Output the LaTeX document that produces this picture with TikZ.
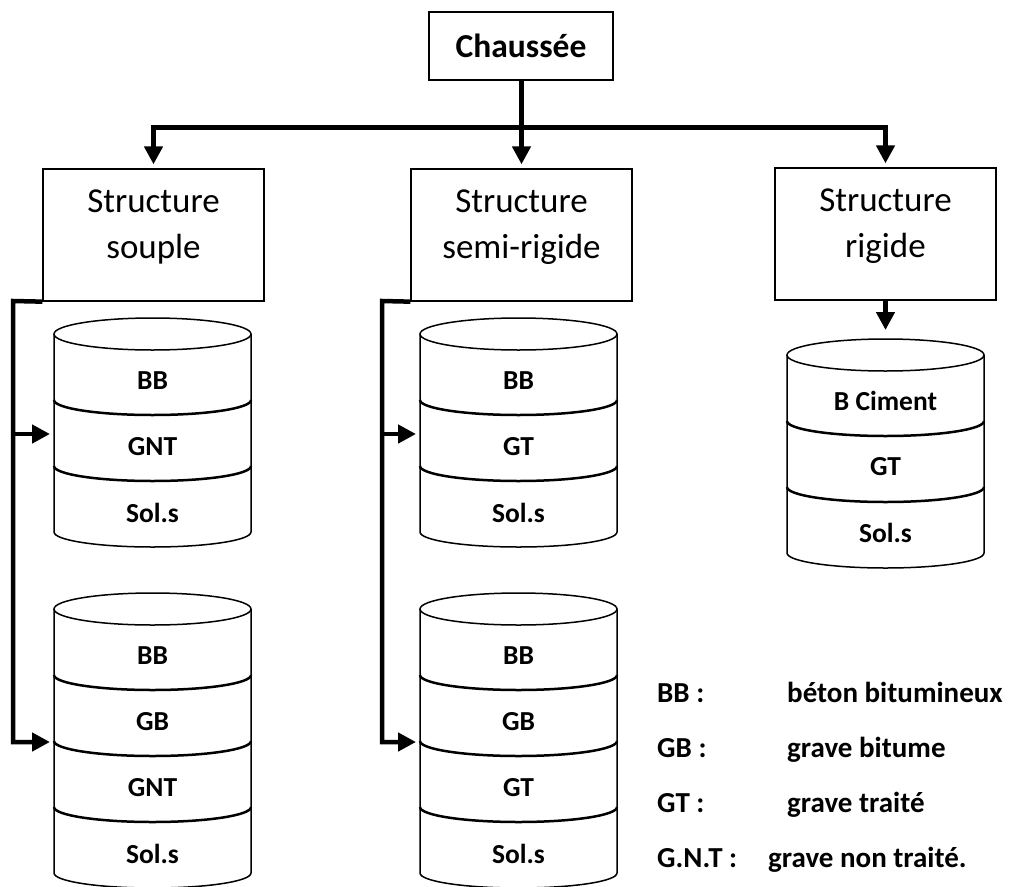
\documentclass[tikz,border=0pt]{standalone}
\usepackage{fontspec}
\setmainfont{Carlito}
\usetikzlibrary{arrows.meta}
\newcommand\drawlayers[3]{% #1 left x, #2 top centre y, #3 number of layers
  \pgfmathsetmacro\cylbot{#2+66*#3}
  \draw[cylline] (#1+98.5,#2) ellipse[x radius=98.5pt,y radius=16pt];
  \draw[cylline] (#1,#2) -- (#1,\cylbot) arc[start angle=180,end angle=360,x radius=98.5pt,y radius=15pt] -- (#1+197,#2);
  \pgfmathtruncatemacro\cyln{#3-1}
  \foreach \k in {1,...,\cyln}{
    \draw[divider] (#1,#2+66*\k) arc[start angle=180,end angle=360,x radius=98.5pt,y radius=15pt];
  }
}
\begin{document}
\begin{tikzpicture}[x=1pt,y=-1pt,
  topbox/.style={draw,line width=1.3pt,minimum width=184pt,minimum height=68pt,inner sep=0pt,
    font=\fontsize{33.5}{40}\selectfont\bfseries},
  sbox/.style={draw,line width=1.3pt,minimum width=221pt,minimum height=132pt,inner sep=0pt,
    align=center,font=\fontsize{35}{46}\selectfont,text depth=22pt},
  conn/.style={line width=5.5pt,-{Triangle[length=18pt,width=18pt]},shorten >=4pt},
  link/.style={line width=4.5pt,-{Triangle[length=18pt,width=18pt]},shorten >=4pt},
  cylline/.style={line width=1.5pt},
  divider/.style={line width=2.5pt},
  lab/.style={font=\fontsize{27.5}{32}\selectfont\bfseries,inner sep=0pt},
  leg/.style={font=\fontsize{29}{34}\selectfont\bfseries,inner sep=0pt,anchor=base west}]
\useasboundingbox[fill=white] (0,0) rectangle (1011,886);

% boxes
\node[topbox] (ch) at (521,46) {Chaussée};
\node[sbox] (s1) at (153.5,235) {Structure\\souple};
\node[sbox] (s2) at (521.5,235) {Structure\\semi-rigide};
\node[sbox] (s3) at (885.5,234) {Structure\\rigide};

% top connectors
\coordinate (bar) at (0,127.5);
\draw[conn] (s2.north |- ch.south) -- (s2.north |- bar) -| (s1.north);
\draw[conn] (s2.north |- ch.south) -- (s2.north |- bar) -| (s3.north);
\draw[conn] (s2.north |- ch.south) -- (s2.north);

% cylinders
\drawlayers{54}{334}{3}
\drawlayers{420}{334}{3}
\drawlayers{54}{609}{4}
\drawlayers{420}{609}{4}
\drawlayers{787}{355}{3}

% cylinder labels
\node[lab] (a1) at (152.5,381) {BB};
\node[lab] (a2) at (152.5,447) {GNT};
\node[lab] (a3) at (152.5,513) {Sol.s};
\node[lab] (b1) at (518.5,381) {BB};
\node[lab] (b2) at (518.5,447) {GT};
\node[lab] (b3) at (518.5,513) {Sol.s};
\node[lab] (c1) at (152.5,656) {BB};
\node[lab] (c2) at (152.5,722) {GB};
\node[lab] (c3) at (152.5,788) {GNT};
\node[lab] (c4) at (152.5,854) {Sol.s};
\node[lab] (d1) at (518.5,656) {BB};
\node[lab] (d2) at (518.5,722) {GB};
\node[lab] (d3) at (518.5,788) {GT};
\node[lab] (d4) at (518.5,854) {Sol.s};
\node[lab] (e1) at (885.5,401) {B Ciment};
\node[lab] (e2) at (885.5,467) {GT};
\node[lab] (e3) at (885.5,533) {Sol.s};

% side connectors
\coordinate (k1) at (13,301);
\coordinate (t1) at (54,434);
\coordinate (t2) at (54,742);
\draw[link] (s1.south west) -- (k1) |- (t2);
\draw[link] (k1 |- t1) -- (t1);
\coordinate (k2) at (382,301);
\coordinate (t3) at (420,434);
\coordinate (t4) at (420,742);
\draw[link] (s2.south west) -- (k2) |- (t4);
\draw[link] (k2 |- t3) -- (t3);
\coordinate (r0) at (885.5,339);
\draw[conn,shorten >=9pt] (s3.south) -- (r0);

% legend
\node[leg] (g1) at (657,702) {BB :};
\node[leg] (h1) at (787,702) {béton bitumineux};
\node[leg] (g2) at (657,757) {GB :};
\node[leg] (h2) at (787,757) {grave bitume};
\node[leg] (g3) at (657,812) {GT :};
\node[leg] (h3) at (787,812) {grave traité};
\node[leg] (g4) at (657,867) {G.N.T :};
\node[leg] (h4) at (768,867) {grave non traité.};
\end{tikzpicture}
\end{document}
